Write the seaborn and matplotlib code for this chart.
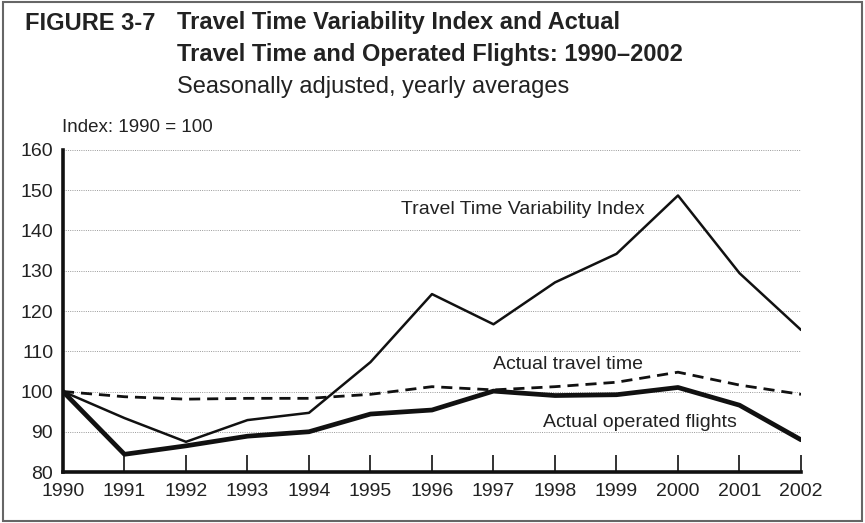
import pandas as pd
import seaborn as sns
import matplotlib.pyplot as plt
from matplotlib.patches import Rectangle

years = list(range(1990, 2003))
variability_index = [100, 93.4, 87.5, 92.9, 94.7, 107.3, 124.2, 116.7, 127.1, 134.2, 148.7, 129.4, 115.3]
travel_time = [100, 98.7, 98.1, 98.3, 98.3, 99.3, 101.2, 100.4, 101.2, 102.3, 104.8, 101.6, 99.3]
operated_flights = [100, 84.4, 86.5, 88.9, 90.0, 94.4, 95.4, 100.1, 99.0, 99.2, 101.0, 96.6, 88.0]
y_ticks = [80, 90, 100, 110, 120, 130, 140, 150, 160]


def main():
    sns.set_theme(style="white")
    plt.rcParams['font.family'] = ['Liberation Sans', 'DejaVu Sans']

    df = pd.DataFrame({
        'year': years,
        'variability': variability_index,
        'travel': travel_time,
        'flights': operated_flights,
    })

    fig = plt.figure(figsize=(8.65, 5.23), dpi=100)
    ax = fig.add_axes([0.0728, 0.0975, 0.926 - 0.0728, 0.7132 - 0.0975])

    # dotted horizontal guides
    for y in y_ticks[1:]:
        ax.axhline(y, color='#999999', lw=0.7, ls=(0, (1, 1.3)), zorder=0)

    sns.lineplot(data=df, x='year', y='variability', ax=ax, color='#111111', lw=1.8)
    sns.lineplot(data=df, x='year', y='travel', ax=ax, color='#111111', lw=2.0,
                 linestyle=(0, (4, 2.5)))
    sns.lineplot(data=df, x='year', y='flights', ax=ax, color='#111111', lw=3.4)

    ax.set_xlim(1990, 2002)
    ax.set_ylim(80, 160)
    ax.set_xticks(years)
    ax.set_yticks(y_ticks)
    ax.set_xlabel('')
    ax.set_ylabel('')
    ax.tick_params(axis='x', direction='in', length=12, width=1.2, color='#111111',
                   labelsize=14, pad=8, bottom=True, labelcolor='#222222')
    ax.tick_params(axis='y', length=0, labelsize=14, pad=7, left=False, labelcolor='#222222')
    for s in ['top', 'right']:
        ax.spines[s].set_visible(False)
    for s in ['left', 'bottom']:
        ax.spines[s].set_linewidth(2.6)
        ax.spines[s].set_color('#111111')

    ax.text(1995.5, 145.1, 'Travel Time Variability Index', fontsize=14, ha='left', va='center',
            color='#222222')
    ax.text(1997.0, 106.6, 'Actual travel time', fontsize=14, ha='left', va='center',
            color='#222222')
    ax.text(1997.8, 92.4, 'Actual operated flights', fontsize=14, ha='left', va='center',
            color='#222222')

    fig.text(62 / 865, 1 - 128 / 523, 'Index: 1990 = 100', fontsize=13.5, ha='left', va='center',
             color='#222222')
    fig.text(25 / 865, 1 - 23 / 523, 'FIGURE 3-7', fontsize=17, fontweight='bold', ha='left',
             va='center', color='#222222')
    fig.text(177 / 865, 1 - 23 / 523, 'Travel Time Variability Index and Actual', fontsize=17,
             fontweight='bold', ha='left', va='center', color='#222222')
    fig.text(177 / 865, 1 - 55 / 523, 'Travel Time and Operated Flights: 1990\u20132002', fontsize=17,
             fontweight='bold', ha='left', va='center', color='#222222')
    fig.text(177 / 865, 1 - 87 / 523, 'Seasonally adjusted, yearly averages', fontsize=17,
             ha='left', va='center', color='#222222')

    fig.patches.append(Rectangle((0.003, 0.004), 0.994, 0.992, transform=fig.transFigure,
                                 fill=False, edgecolor='#666666', lw=1.5))

    fig.savefig('out.png', dpi=100)


if __name__ == "__main__":
    main()
